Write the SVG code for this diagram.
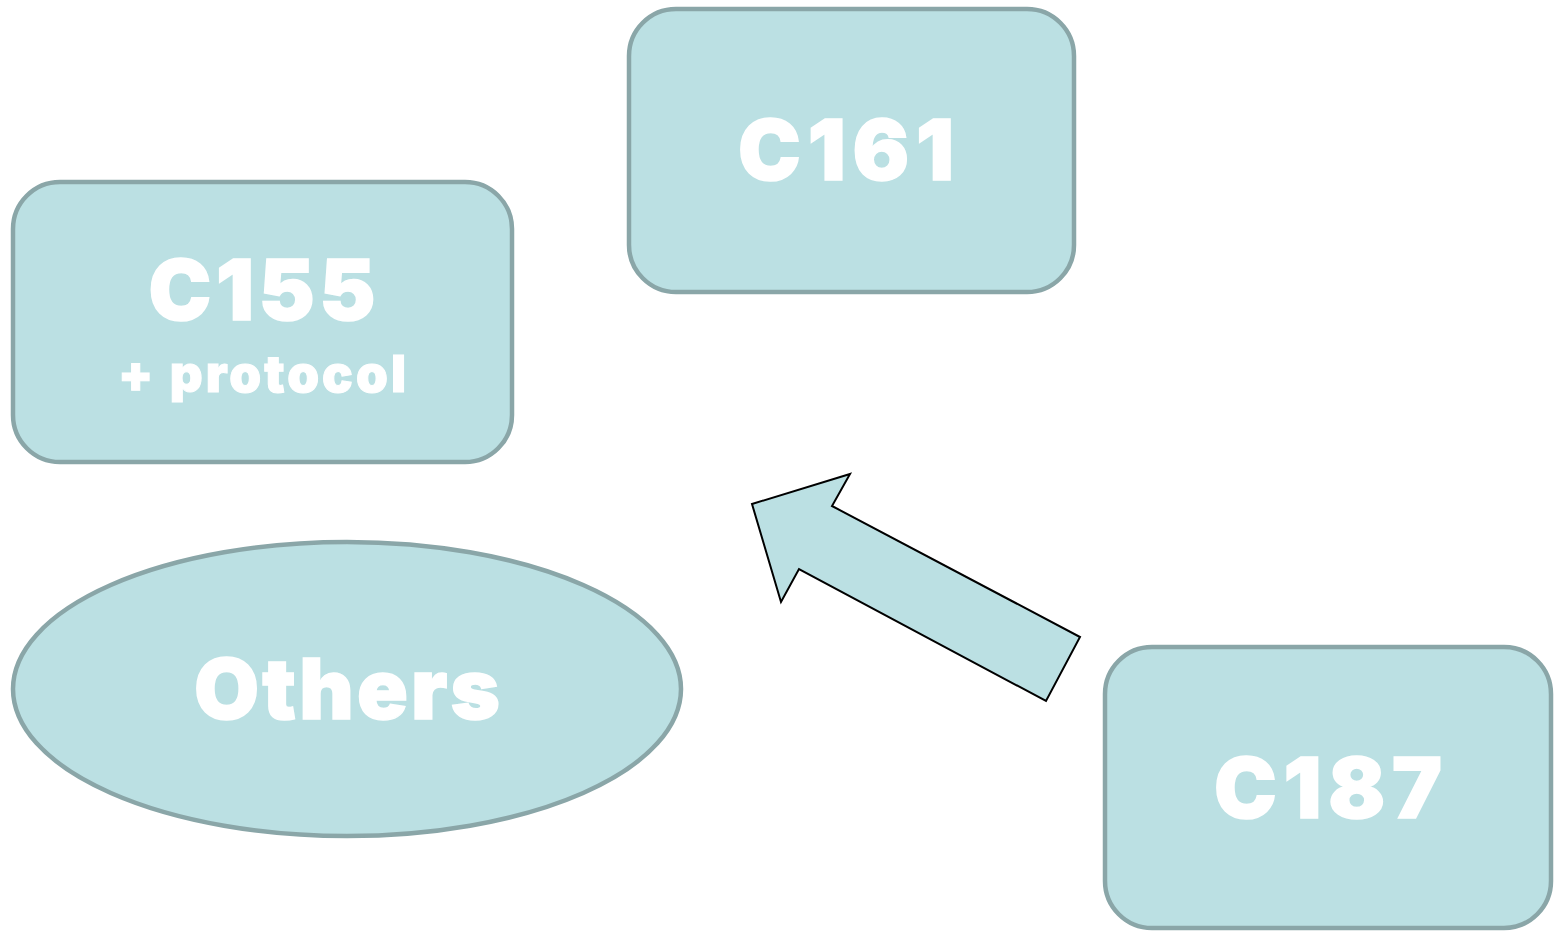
<svg xmlns="http://www.w3.org/2000/svg" width="1560" height="931" viewBox="0 0 1560 931">
<style>
.box{fill:#bbe0e3;stroke:#8aa6a8;stroke-width:4.5}
.lbl{fill:#ffffff;stroke:#ffffff;stroke-linejoin:miter;font-family:Inter,Roboto,"Liberation Sans",sans-serif;font-weight:900;text-anchor:middle}
.big{font-size:84px;stroke-width:1.5}
.small{font-size:51px;stroke-width:1}
.arrow{fill:#bbe0e3;stroke:#000000;stroke-width:2;stroke-linejoin:miter}
</style>
<rect width="1560" height="931" fill="#ffffff"/>
<g id="connectors">
<polygon class="arrow" points="752,504 850,474 832,506 1080,637 1046,701 799,569 781,602"/>
</g>
<g id="node-c161">
<rect class="box" x="629" y="9" width="445" height="283" rx="47"/>
<text class="lbl big" x="846" y="180" textLength="216" lengthAdjust="spacing">C161</text>
</g>
<g id="node-c155">
<rect class="box" x="13" y="182" width="499" height="280" rx="47"/>
<text class="lbl big" x="262" y="320" textLength="227" lengthAdjust="spacing">C155</text>
<text class="lbl small" x="262" y="392" textLength="288" lengthAdjust="spacing">+ protocol</text>
</g>
<g id="node-others">
<ellipse class="box" cx="347" cy="689" rx="334" ry="147"/>
<text class="lbl big" x="347" y="719" textLength="306" lengthAdjust="spacing">Others</text>
</g>
<g id="node-c187">
<rect class="box" x="1105" y="647" width="446" height="281" rx="47"/>
<text class="lbl big" x="1328" y="818" textLength="228" lengthAdjust="spacing">C187</text>
</g>
</svg>
